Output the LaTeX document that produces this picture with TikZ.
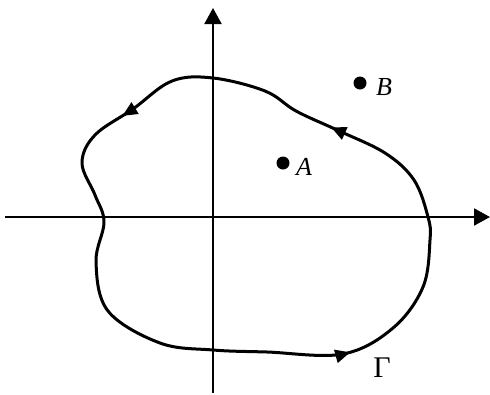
\documentclass[tikz,border=0pt]{standalone}
\usepackage{fontspec}
\setmainfont{Liberation Serif}
\usetikzlibrary{arrows.meta,decorations.markings}
\begin{document}
\begin{tikzpicture}[x=1pt,y=-1pt,
  axis/.style={line width=2pt,-{Triangle[length=16pt,width=17pt]}},
  contour/.style={line width=3pt,line join=round,
    decoration={markings,
      mark=at position 0.098 with {\arrow{Triangle[length=15pt,width=13pt]}},
      mark=at position 0.326 with {\arrow{Triangle[length=15pt,width=13pt]}},
      mark=at position 0.792 with {\arrow{Triangle[length=15pt,width=13pt]}}},
    postaction={decorate}},
  pt/.style={circle,fill=black,inner sep=0pt,minimum size=13pt},
  lbl/.style={font=\fontsize{26}{30}\selectfont\itshape,inner sep=0pt}]
\useasboundingbox (0,0) rectangle (490,394);
\coordinate (xs) at (5,217);
\coordinate (xe) at (490,217);
\coordinate (ys) at (213,393);
\coordinate (ye) at (213,8);
\draw[axis] (xs) -- (xe);
\draw[axis] (ys) -- (ye);
\draw[contour] plot[smooth cycle,tension=0.6] coordinates {
 (428,217) (414,180) (385,153) (337,130) (296,111) (265,91)
 (213,78) (172,81) (133,109) (95,135) (82,163) (95,195) (104,222)
 (96,262) (108,311) (160,343) (213,350) (267,352) (343,354)
 (393,328) (423,287) (430,240)};
\node[pt] (a) at (283,163) {};
\node[pt] (b) at (360,83) {};
\node[lbl,anchor=west] (la) at (296,167) {A};
\node[lbl,anchor=west] (lb) at (376,87) {B};
\node[font=\fontsize{30}{34}\selectfont,inner sep=0pt] (g) at (382,368) {Γ};
\end{tikzpicture}
\end{document}
